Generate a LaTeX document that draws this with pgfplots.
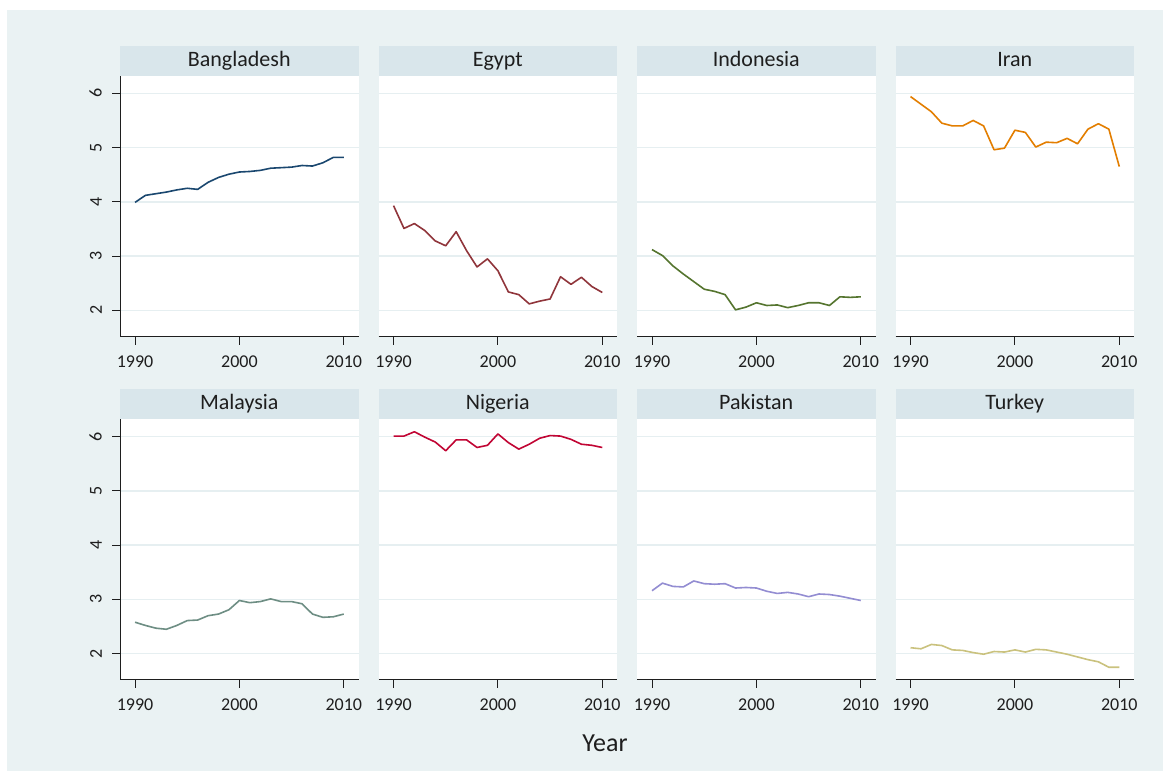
\documentclass[border=0pt]{standalone}
\usepackage{pgfplots}
\pgfplotsset{compat=1.18}
\usepackage{fontspec}
\setmainfont{Carlito}
\definecolor{bgc}{RGB}{234,242,243}
\definecolor{stripc}{RGB}{217,230,235}
\definecolor{gridc}{RGB}{230,239,241}
\definecolor{txtc}{RGB}{30,30,30}
\definecolor{c1}{HTML}{1A476F}
\definecolor{c2}{HTML}{90353B}
\definecolor{c3}{HTML}{55752F}
\definecolor{c4}{HTML}{E37E00}
\definecolor{c5}{HTML}{6E8E84}
\definecolor{c6}{HTML}{C10534}
\definecolor{c7}{HTML}{938DD2}
\definecolor{c8}{HTML}{CAC27E}
\pgfplotsset{
  panel/.style={
    width=238.5pt, height=261pt, scale only axis, anchor=south west,
    xmin=1988.56, xmax=2011.41, ymin=1.515, ymax=6.325,
    xtick={1990,2000,2010}, ytick={2,3,4,5,6},
    axis x line*=bottom, axis y line*=left,
    tick align=outside, major tick length=8pt,
    ymajorgrids, grid style={gridc, line width=1.4pt},
    axis background/.style={fill=white},
    axis line style={line width=1pt, txtc, -},
    every tick/.style={txtc, line width=1pt},
    ticklabel style={font=\fontsize{18}{20}\selectfont, text=txtc},
    /pgf/number format/1000 sep={},
    /pgf/number format/assume math mode=true,
    yticklabel style={rotate=90, anchor=south, inner ysep=10pt},
    xticklabel style={anchor=base, yshift=-23pt},
    every axis plot/.append style={line width=1.6pt, line join=round, mark=none},
  },
  inner/.style={yticklabels={}, y axis line style={draw=none}, ytick style={draw=none}},
}
\newcommand{\strip}[3]{%
  \fill[stripc] (#1pt,#2pt) rectangle ++(238.5pt,29.5pt);
  \node[anchor=base, text=txtc, font=\fontsize{22}{24}\selectfont] at ([xshift=119.25pt,yshift=9pt]#1pt,#2pt) {#3};
}
\begin{document}
\begin{tikzpicture}
\fill[white] (0pt,0pt) rectangle (1163pt,771pt);
\fill[bgc] (7pt,0pt) rectangle (1163pt,761pt);
\strip{120}{695.3}{Bangladesh}
\strip{378.5}{695.3}{Egypt}
\strip{637}{695.3}{Indonesia}
\strip{895.5}{695.3}{Iran}
\strip{120}{352}{Malaysia}
\strip{378.5}{352}{Nigeria}
\strip{637}{352}{Pakistan}
\strip{895.5}{352}{Turkey}
% row 1
\begin{axis}[panel, at={(120pt,434.3pt)}]
\addplot[c1] coordinates {(1990,3.99)(1991,4.12)(1992,4.15)(1993,4.18)(1994,4.22)(1995,4.25)(1996,4.23)(1997,4.36)(1998,4.45)(1999,4.51)(2000,4.55)(2001,4.56)(2002,4.58)(2003,4.62)(2004,4.63)(2005,4.64)(2006,4.67)(2007,4.66)(2008,4.72)(2009,4.82)(2010,4.82)};
\end{axis}
\begin{axis}[panel, inner, at={(378.5pt,434.3pt)}]
\addplot[c2] coordinates {(1990,3.93)(1991,3.51)(1992,3.60)(1993,3.47)(1994,3.28)(1995,3.19)(1996,3.45)(1997,3.10)(1998,2.80)(1999,2.95)(2000,2.73)(2001,2.34)(2002,2.29)(2003,2.12)(2004,2.17)(2005,2.21)(2006,2.62)(2007,2.48)(2008,2.61)(2009,2.44)(2010,2.33)};
\end{axis}
\begin{axis}[panel, inner, at={(637pt,434.3pt)}]
\addplot[c3] coordinates {(1990,3.12)(1991,3.01)(1992,2.82)(1993,2.67)(1994,2.53)(1995,2.39)(1996,2.35)(1997,2.29)(1998,2.01)(1999,2.06)(2000,2.14)(2001,2.09)(2002,2.10)(2003,2.05)(2004,2.09)(2005,2.14)(2006,2.14)(2007,2.09)(2008,2.25)(2009,2.24)(2010,2.25)};
\end{axis}
\begin{axis}[panel, inner, at={(895.5pt,434.3pt)}]
\addplot[c4] coordinates {(1990,5.94)(1991,5.80)(1992,5.66)(1993,5.45)(1994,5.40)(1995,5.40)(1996,5.50)(1997,5.40)(1998,4.96)(1999,4.99)(2000,5.32)(2001,5.28)(2002,5.01)(2003,5.10)(2004,5.09)(2005,5.17)(2006,5.07)(2007,5.34)(2008,5.44)(2009,5.34)(2010,4.65)};
\end{axis}
% row 2
\begin{axis}[panel, at={(120pt,91pt)}]
\addplot[c5] coordinates {(1990,2.58)(1991,2.52)(1992,2.47)(1993,2.45)(1994,2.52)(1995,2.61)(1996,2.62)(1997,2.70)(1998,2.73)(1999,2.81)(2000,2.98)(2001,2.94)(2002,2.96)(2003,3.01)(2004,2.96)(2005,2.96)(2006,2.92)(2007,2.73)(2008,2.67)(2009,2.68)(2010,2.73)};
\end{axis}
\begin{axis}[panel, inner, at={(378.5pt,91pt)}]
\addplot[c6] coordinates {(1990,6.01)(1991,6.01)(1992,6.09)(1993,5.99)(1994,5.90)(1995,5.74)(1996,5.94)(1997,5.94)(1998,5.80)(1999,5.84)(2000,6.05)(2001,5.89)(2002,5.77)(2003,5.86)(2004,5.97)(2005,6.02)(2006,6.01)(2007,5.95)(2008,5.86)(2009,5.84)(2010,5.80)};
\end{axis}
\begin{axis}[panel, inner, at={(637pt,91pt)}]
\addplot[c7] coordinates {(1990,3.16)(1991,3.30)(1992,3.24)(1993,3.23)(1994,3.34)(1995,3.29)(1996,3.28)(1997,3.29)(1998,3.21)(1999,3.22)(2000,3.21)(2001,3.15)(2002,3.11)(2003,3.13)(2004,3.10)(2005,3.05)(2006,3.10)(2007,3.09)(2008,3.06)(2009,3.02)(2010,2.98)};
\end{axis}
\begin{axis}[panel, inner, at={(895.5pt,91pt)}]
\addplot[c8] coordinates {(1990,2.11)(1991,2.09)(1992,2.17)(1993,2.15)(1994,2.07)(1995,2.06)(1996,2.02)(1997,1.99)(1998,2.04)(1999,2.03)(2000,2.07)(2001,2.03)(2002,2.08)(2003,2.07)(2004,2.03)(2005,1.99)(2006,1.94)(2007,1.89)(2008,1.85)(2009,1.75)(2010,1.75)};
\end{axis}
\node[anchor=base, text=txtc, font=\fontsize{26}{28}\selectfont] at (605pt,19pt) {Year};
\end{tikzpicture}
\end{document}
